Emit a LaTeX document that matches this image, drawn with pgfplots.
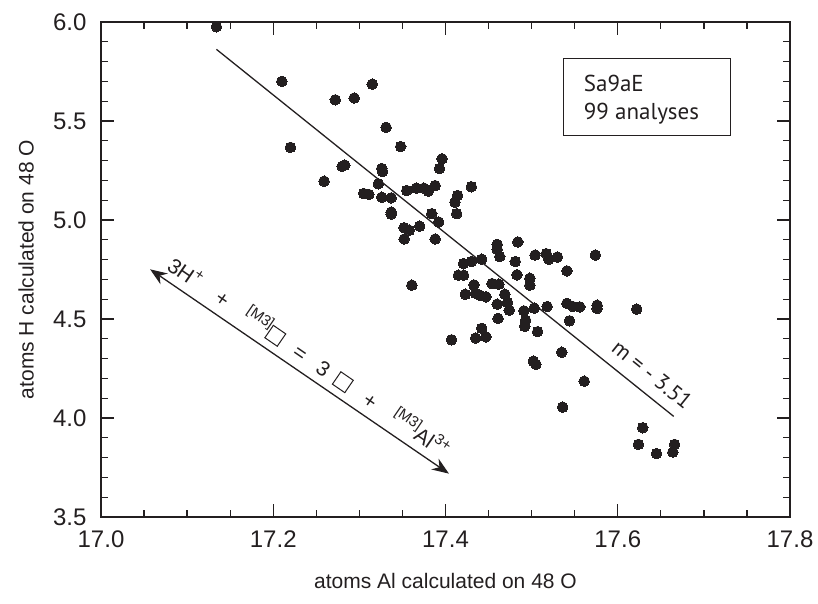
\documentclass[border=0pt]{standalone}
\usepackage{pgfplots}
\pgfplotsset{compat=1.18}
\usetikzlibrary{arrows.meta}
\usepackage{fontspec}
\setmainfont{Liberation Sans}
\newfontfamily\myriad{PT Sans}
\definecolor{ink}{HTML}{231F20}
\newcommand\vac{{\setlength{\fboxsep}{0pt}\setlength{\fboxrule}{1pt}\fbox{\rule{0pt}{14pt}\hspace{14pt}}}}
\newcommand\supx[1]{\raisebox{0.45em}{\fontsize{15}{15}\selectfont #1}}
\begin{document}
\begin{tikzpicture}
\path[use as bounding box] (-101pt,-87pt) rectangle (717pt,517pt);
\begin{axis}[
  scale only axis, width=689pt, height=495pt,
  xmin=17.0, xmax=17.8, ymin=3.5, ymax=6.0,
  xtick={17.0,17.2,17.4,17.6,17.8}, minor x tick num=3,
  ytick={3.5,4.0,4.5,5.0,5.5,6.0}, minor y tick num=4,
  tick align=inside, major tick length=13pt, minor tick length=7pt,
  every tick/.style={line width=1.3pt, ink},
  axis line style={line width=1.5pt, ink},
  /pgf/number format/assume math mode=true,
  /pgf/number format/.cd, fixed, fixed zerofill, precision=1, /pgfplots/.cd,
  ticklabel style={font=\fontsize{24}{28}\selectfont, text=ink},
  xticklabel style={yshift=-10pt},
  yticklabel style={xshift=-11pt},
  xlabel={atoms Al calculated on 48 O},
  ylabel={atoms H calculated on 48 O},
  label style={font=\fontsize{21}{25}\selectfont, text=ink},
  xlabel style={at={([yshift=-64pt]axis description cs:0.5,0)}, anchor=center},
  ylabel style={at={([xshift=-75pt]axis description cs:0,0.5)}, anchor=center},
  clip=false,
]
\addplot[only marks, mark=*, mark size=5.3pt, ink, mark options={fill=ink, draw=ink, line width=0pt}] coordinates {
(17.134,5.976) (17.210,5.700) (17.220,5.367) (17.272,5.607) (17.294,5.616)
(17.315,5.686) (17.331,5.468) (17.348,5.371) (17.259,5.196) (17.280,5.271)
(17.283,5.277) (17.326,5.260) (17.327,5.245) (17.322,5.183) (17.305,5.134)
(17.311,5.129) (17.326,5.115) (17.337,5.112) (17.337,5.040) (17.337,5.030)
(17.355,5.149) (17.366,5.161) (17.375,5.161) (17.380,5.146) (17.388,5.174)
(17.393,5.260) (17.396,5.309) (17.384,5.032) (17.392,4.990) (17.352,4.961)
(17.358,4.948) (17.370,4.969) (17.352,4.904) (17.388,4.904) (17.430,5.168)
(17.414,5.124) (17.411,5.090) (17.413,5.032) (17.361,4.671) (17.460,4.877)
(17.460,4.852) (17.463,4.815) (17.484,4.889) (17.504,4.823) (17.517,4.830)
(17.520,4.802) (17.530,4.813) (17.574,4.823) (17.421,4.780) (17.430,4.790)
(17.442,4.802) (17.481,4.790) (17.541,4.743) (17.415,4.721) (17.421,4.721)
(17.483,4.723) (17.498,4.706) (17.498,4.671) (17.433,4.672) (17.454,4.679)
(17.462,4.676) (17.423,4.625) (17.435,4.630) (17.440,4.620) (17.447,4.612)
(17.469,4.625) (17.460,4.575) (17.472,4.584) (17.474,4.545) (17.491,4.541)
(17.503,4.555) (17.518,4.563) (17.541,4.579) (17.548,4.563) (17.556,4.561)
(17.576,4.570) (17.576,4.553) (17.461,4.503) (17.493,4.494) (17.492,4.463)
(17.544,4.491) (17.442,4.453) (17.435,4.404) (17.447,4.410) (17.407,4.395)
(17.507,4.436) (17.535,4.332) (17.502,4.287) (17.505,4.271) (17.561,4.186)
(17.536,4.055) (17.622,4.550) (17.629,3.951) (17.624,3.867) (17.645,3.820)
(17.666,3.867) (17.664,3.828)
};
\addplot[ink, line width=1.3pt, no marks] coordinates {(17.134,5.862) (17.665,4.008)};
\node[rotate=-38.9, font=\myriad\fontsize{22}{26}\selectfont, text=ink, inner sep=0pt] at (axis cs:17.640,4.220) {m = - 3.51};
\draw[ink, line width=1.3pt, {Stealth[length=17pt,width=13pt]}-{Stealth[length=17pt,width=13pt]}]
  (axis cs:17.057,4.751) -- (axis cs:17.404,3.719);
\node[rotate=-34.5, font=\fontsize{21}{25}\selectfont, text=ink, inner sep=0pt] at (axis cs:17.2420,4.3130)
  {3H\supx{+}\hspace{22pt}+\hspace{21pt}\supx{[M3]}\vac\hspace{16pt}=\hspace{16pt}3\hspace{10pt}\vac\hspace{19pt}+\hspace{21pt}\supx{[M3]}Al\supx{3+}};
\draw[ink, line width=1pt] (axis cs:17.537,5.814) rectangle (axis cs:17.731,5.426);
\node[anchor=west, align=left, font=\myriad\fontsize{23}{28}\selectfont, text=ink, inner sep=0pt] at (axis cs:17.5605,5.607) {Sa9aE\\99 analyses};
\end{axis}
\end{tikzpicture}
\end{document}
